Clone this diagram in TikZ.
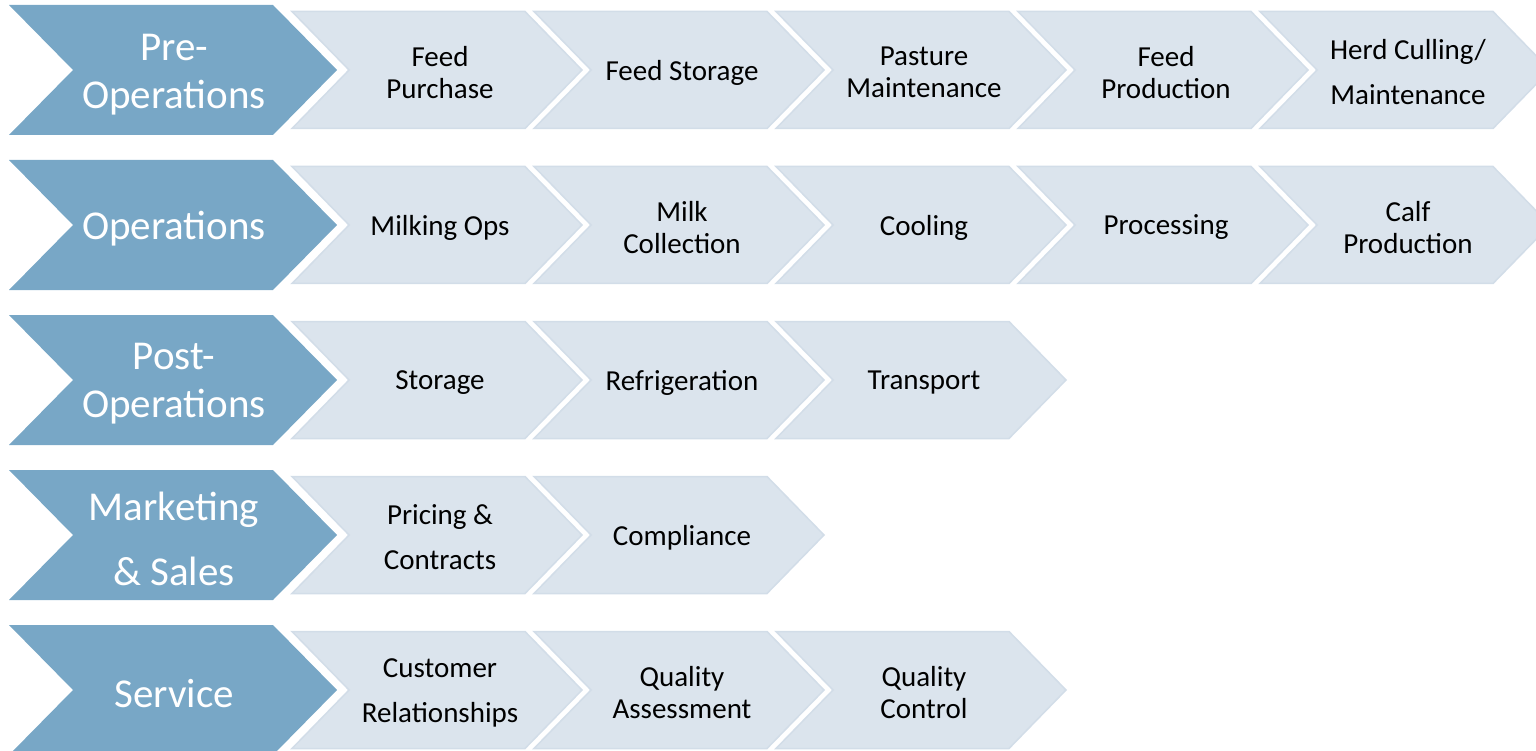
\documentclass[tikz,border=0pt]{standalone}
\usepackage{fontspec}
\setmainfont{Carlito}
\definecolor{darkblue}{HTML}{78A7C6}
\definecolor{lightblue}{HTML}{DBE4ED}
\definecolor{lightedge}{HTML}{D2DDE8}
\tikzset{
  darkchev/.pic={\fill[darkblue] (0,-65) -- (264,-65) -- (328,0) -- (264,65) -- (0,65) -- (64,0) -- cycle;},
  lightchev/.pic={\filldraw[fill=lightblue,draw=lightedge,line width=1.5pt] (0,-58.5) -- (233,-58.5) -- (290,0) -- (233,58.5) -- (0,58.5) -- (57,0) -- cycle;},
  darktxt/.style={text=white,font=\fontsize{41}{48}\selectfont,align=center,inner sep=0pt,yshift=-4pt},
  lighttxt/.style={text=black,font=\fontsize{29}{32}\selectfont,align=center,inner sep=0pt,yshift=-2.5pt},
}
\begin{document}
\begin{tikzpicture}[x=1pt,y=-1pt]
\useasboundingbox (0,0) rectangle (1536,751);
\clip (0,0) rectangle (1536,751);
% chevrons
\foreach \r in {0,1,2,3,4}{
  \pic at (9,70+155*\r) {darkchev};
}
\foreach \k in {0,...,4}{ \pic at (292+242*\k,70) {lightchev}; \pic at (292+242*\k,225) {lightchev}; }
\foreach \k in {0,1,2}{ \pic at (292+242*\k,380) {lightchev}; \pic at (292+242*\k,690) {lightchev}; }
\foreach \k in {0,1}{ \pic at (292+242*\k,535) {lightchev}; }
% dark labels
\node[darktxt] (pre) at (174,71) {Pre-\\Operations};
\node[darktxt] (ops) at (174,225) {Operations};
\node[darktxt] (post) at (174,380) {Post-\\Operations};
\node[darktxt,font=\fontsize{41}{65}\selectfont] (mkt) at (174,535) {Marketing\\\& Sales};
\node[darktxt] (svc) at (174,690) {Service};
% row 1
\node[lighttxt] (fp) at (440,70) {Feed\\Purchase};
\node[lighttxt] (fs) at (682,70) {Feed Storage};
\node[lighttxt] (pm) at (924,70) {Pasture\\Maintenance};
\node[lighttxt] (fprod) at (1166,70) {Feed\\Production};
\node[lighttxt,font=\fontsize{29}{45}\selectfont] (herd) at (1408,70) {Herd Culling/\\Maintenance};
% row 2
\node[lighttxt] (mo) at (440,225) {Milking Ops};
\node[lighttxt] (mc) at (682,225) {Milk\\Collection};
\node[lighttxt] (cool) at (924,225) {Cooling};
\node[lighttxt] (proc) at (1166,225) {Processing};
\node[lighttxt] (calf) at (1408,225) {Calf\\Production};
% row 3
\node[lighttxt] (stor) at (440,380) {Storage};
\node[lighttxt] (refr) at (682,380) {Refrigeration};
\node[lighttxt] (trans) at (924,380) {Transport};
% row 4
\node[lighttxt,font=\fontsize{29}{45}\selectfont] (pc) at (440,535) {Pricing \&\\Contracts};
\node[lighttxt] (comp) at (682,535) {Compliance};
% row 5
\node[lighttxt,font=\fontsize{29}{45}\selectfont] (cr) at (440,690) {Customer\\Relationships};
\node[lighttxt] (qa) at (682,690) {Quality\\Assessment};
\node[lighttxt] (qc) at (924,690) {Quality\\Control};
\end{tikzpicture}
\end{document}
